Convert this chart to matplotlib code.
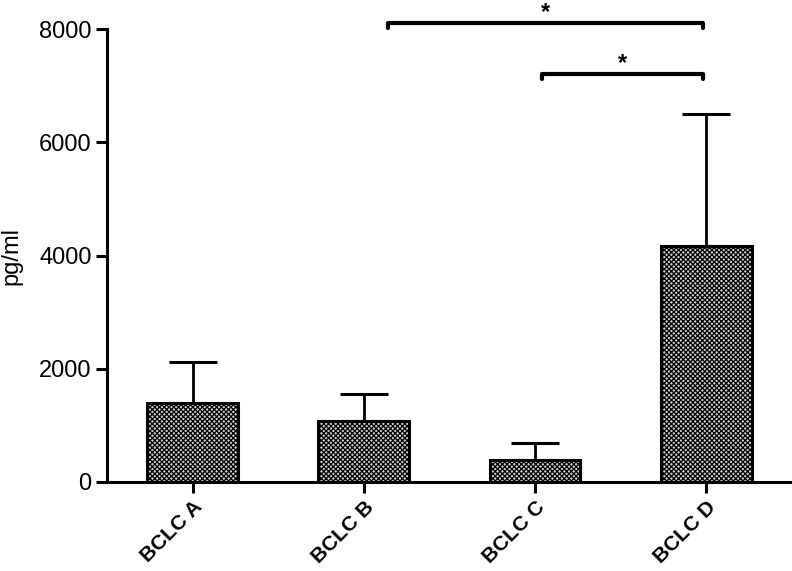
import matplotlib
matplotlib.use('Agg')
import matplotlib.pyplot as plt

groups = ['BCLC A', 'BCLC B', 'BCLC C', 'BCLC D']
means = [1390, 1080, 380, 4170]
sem_upper = [720, 470, 300, 2330]

# significance brackets: (start x, end x, height)
brackets = [(1.14, 2.98, 8110), (2.04, 2.98, 7210)]

plt.rcParams['font.family'] = ['Liberation Sans', 'DejaVu Sans']
plt.rcParams['hatch.linewidth'] = 0.9

fig = plt.figure(figsize=(7.92, 5.71), dpi=100)
ax = fig.add_axes([0.135, 0.156, 0.865, 0.793])

x = list(range(len(groups)))
ax.bar(x, means, width=0.53, color='#d0d0d0', edgecolor='black',
       linewidth=2.2, hatch='xxxxxxx', zorder=2)
ax.errorbar(x, means, yerr=[[0] * len(means), sem_upper], fmt='none',
            ecolor='black', elinewidth=2.0, capsize=17, capthick=2.2, zorder=1)

for x0, x1, h in brackets:
    ax.plot([x0, x0, x1, x1], [h - 90, h, h, h - 90], color='black',
            lw=3, clip_on=False, solid_capstyle='round', solid_joinstyle='round')
    ax.text((x0 + x1) / 2, h + 180, '*', ha='center', va='center',
            fontsize=17, fontweight='bold', clip_on=False)

ax.set_xlim(-0.5, 3.5)
ax.set_ylim(0, 8000)
ax.set_yticks([0, 2000, 4000, 6000, 8000])
ax.set_xticks(x)
ax.set_xticklabels(groups, rotation=45, ha='right', rotation_mode='anchor',
                   fontsize=15, fontweight='bold')
ax.tick_params(axis='y', labelsize=17, width=2.2, length=8, pad=3)
ax.tick_params(axis='x', width=2.2, length=8, pad=3)
ax.set_ylabel('pg/ml', fontsize=17, labelpad=12)

ax.spines['top'].set_visible(False)
ax.spines['right'].set_visible(False)
ax.spines['left'].set_linewidth(2.2)
ax.spines['bottom'].set_linewidth(2.2)

fig.savefig('out.png', dpi=100)
